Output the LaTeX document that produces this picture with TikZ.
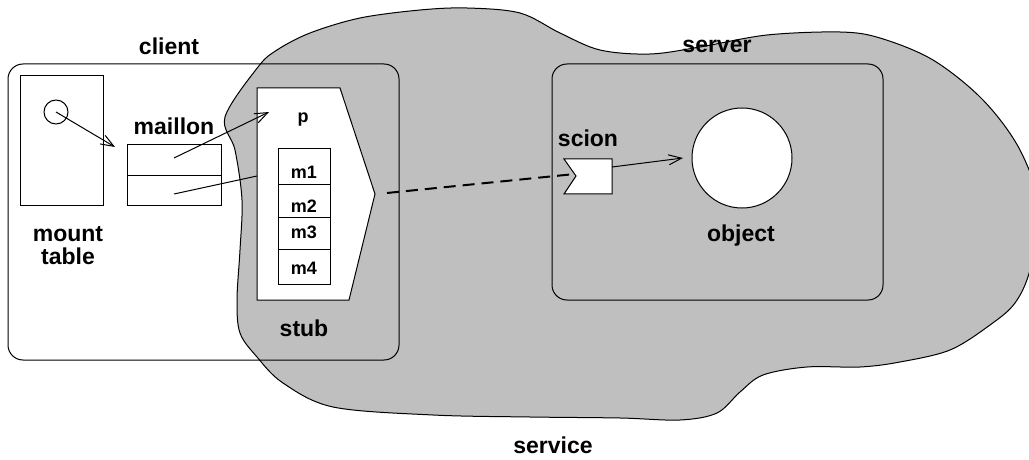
\documentclass[tikz,border=0pt]{standalone}
\usepackage{fontspec}
\setmainfont{Liberation Sans}
\usetikzlibrary{arrows.meta}
\definecolor{servicegray}{RGB}{191,191,191}
\begin{document}
\begin{tikzpicture}[x=0.5pt,y=-0.5pt,line width=0.5pt,
  lbl/.style={font=\fontsize{11.5}{13}\selectfont\bfseries, inner sep=0pt, anchor=base},
  small/.style={font=\fontsize{9}{11}\selectfont\bfseries, inner sep=0pt, anchor=base},
  box/.style={draw, fill=white, inner sep=0pt},
  frame/.style={draw, rounded corners=7.5pt, inner sep=0pt},
  ptr/.style={-{Straight Barb[length=6.5pt,width=5pt]}},
  remote/.style={line width=1pt, dash pattern=on 6pt off 3.5pt}]
\useasboundingbox (0,0) rectangle (1029,460);
\clip (0,0) rectangle (1029,460);

% the service area
\draw[fill=servicegray] plot[smooth cycle, tension=0.55] coordinates {
  (225,117) (258,67) (277,50) (310,33) (360,18) (420,10) (467,8) (520,13)
  (560,33) (600,50) (650,54) (700,47) (767,35) (840,32) (880,38) (933,60)
  (983,100) (1020,150) (1040,210) (1030,270) (1015,303) (990,325) (950,350)
  (900,362) (860,367) (807,367) (763,375) (740,392) (717,413) (680,420)
  (620,418) (530,417) (433,415) (333,407) (283,383) (257,357) (240,333)
  (237,300) (240,250) (242,200) (235,150)};

% client and server frames
\node[frame, minimum width=195.5pt, minimum height=148pt] (client) at (203.5,212) {};
\node[frame, minimum width=165.5pt, minimum height=118pt] (server) at (717.5,182) {};

% mount table
\node[box, minimum width=41.5pt, minimum height=65pt] (mt) at (61.5,141) {};
\node[draw, circle, inner sep=0pt, minimum size=12pt] (hole) at (56,112) {};

% maillon
\node[box, minimum width=47pt, minimum height=15.5pt] (mtop) at (174,160.5) {};
\node[box, minimum width=47pt, minimum height=15pt] (mbot) at (174,191) {};
\coordinate (mentry) at (115,147);
\coordinate (mtopsrc) at (174,158);
\coordinate (mbotsrc) at (174,194);

% stub
\draw[fill=white] (257,88) -- (340,88) -- (375,194) -- (349,300) -- (257,300) -- cycle;
\coordinate (stubtip) at (387,193);
\coordinate (pentry) at (269,112);
\coordinate (stubin) at (257,176);
\node[box, minimum width=26pt, minimum height=18pt] (m1) at (304,167) {};
\node[box, minimum width=26pt, minimum height=16.5pt] (m2) at (304,201.5) {};
\node[box, minimum width=26pt, minimum height=15.5pt] (m3) at (304,233.5) {};
\node[box, minimum width=26pt, minimum height=17.5pt] (m4) at (304,266.5) {};

% scion and object
\draw[fill=white] (564,159) -- (612,159) -- (612,194) -- (564,194) -- (576,176) -- cycle;
\coordinate (scionin) at (575,174);
\coordinate (scionout) at (612,167);
\node[draw, circle, fill=white, inner sep=0pt, minimum size=50pt] (object) at (742,158) {};
\coordinate (objentry) at (683,158);

% connectors
\draw[ptr] (hole.center) -- (mentry);
\draw[ptr] (mtopsrc) -- (pentry);
\draw (mbotsrc) -- (stubin);
\draw[remote] (stubtip) -- (scionin);
\draw[ptr] (scionout) -- (objentry);

% labels
\node[lbl] (lclient) at (169,55) {client};
\node[lbl] (lserver) at (717,53) {server};
\node[lbl] (lservice) at (553,453) {service};
\node[lbl] (lmaillon) at (174,135) {maillon};
\node[lbl] (lmount) at (68,242) {mount};
\node[lbl] (ltable) at (68,264) {table};
\node[lbl] (lstub) at (304,336) {stub};
\node[lbl] (lscion) at (588,147) {scion};
\node[lbl] (lobject) at (741,242) {object};
\node[small] (lp) at (303,123) {p};
\node[small] (lm1) at (304,178) {m1};
\node[small] (lm2) at (304,213) {m2};
\node[small] (lm3) at (304,238) {m3};
\node[small] (lm4) at (304,274) {m4};
\end{tikzpicture}
\end{document}
